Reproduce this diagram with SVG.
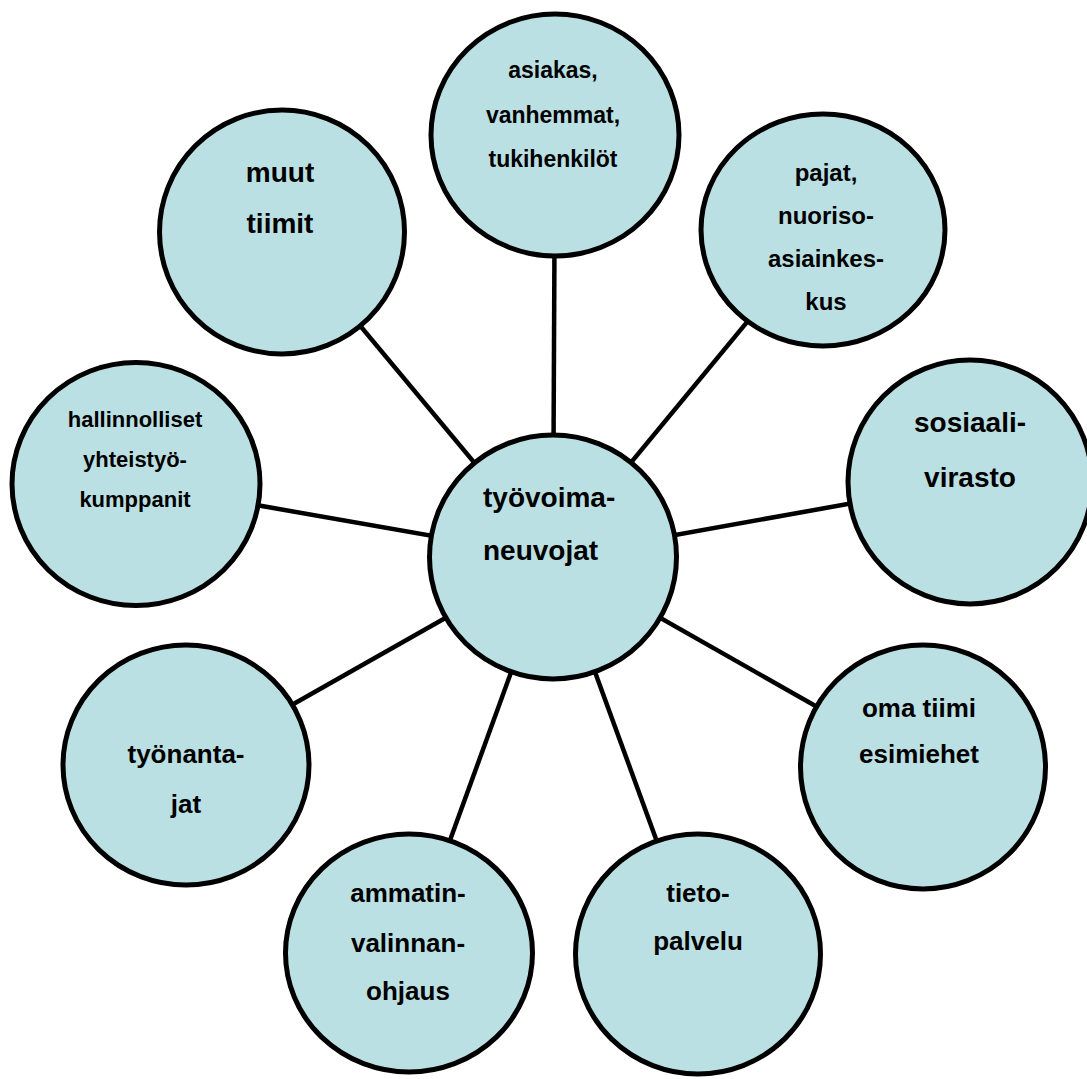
<svg xmlns="http://www.w3.org/2000/svg" width="1087" height="1079" viewBox="0 0 1087 1079">
  <style>
    .node { fill: #bbe0e3; stroke: #000; stroke-width: 5; }
    .link { stroke: #000; stroke-width: 4.5; fill: none; }
    text { font-family: "Liberation Sans", Arial, sans-serif; font-weight: bold; fill: #000; text-anchor: middle; }
  </style>
  <rect width="1087" height="1079" fill="#fff"/>

  <!-- spokes from the hub to every outer node -->
  <g id="connectors">
    <line class="link" x1="553" y1="557" x2="555" y2="135"/>
    <line class="link" x1="553" y1="557" x2="823" y2="230"/>
    <line class="link" x1="553" y1="557" x2="970" y2="482"/>
    <line class="link" x1="553" y1="557" x2="923" y2="767"/>
    <line class="link" x1="553" y1="557" x2="698" y2="954"/>
    <line class="link" x1="553" y1="557" x2="409" y2="953"/>
    <line class="link" x1="553" y1="557" x2="186" y2="765"/>
    <line class="link" x1="553" y1="557" x2="136" y2="484"/>
    <line class="link" x1="553" y1="557" x2="282" y2="232"/>
  </g>

  <g id="node-asiakas">
    <ellipse class="node" cx="555" cy="135" rx="124" ry="121"/>
    <text font-size="23"><tspan x="553" y="78">asiakas,</tspan><tspan x="553" y="123">vanhemmat,</tspan><tspan x="553" y="167">tukihenkilöt</tspan></text>
  </g>

  <g id="node-pajat">
    <ellipse class="node" cx="823" cy="230" rx="122" ry="116"/>
    <text font-size="24"><tspan x="826" y="181">pajat,</tspan><tspan x="826" y="224">nuoriso-</tspan><tspan x="826" y="267">asiainkes-</tspan><tspan x="826" y="310">kus</tspan></text>
  </g>

  <g id="node-sosiaalivirasto">
    <ellipse class="node" cx="970" cy="482" rx="122" ry="122"/>
    <text font-size="28"><tspan x="970" y="432">sosiaali-</tspan><tspan x="970" y="487">virasto</tspan></text>
  </g>

  <g id="node-oma-tiimi">
    <ellipse class="node" cx="923" cy="767" rx="122.5" ry="122"/>
    <text font-size="26"><tspan x="919" y="717">oma tiimi</tspan><tspan x="919" y="763">esimiehet</tspan></text>
  </g>

  <g id="node-tietopalvelu">
    <ellipse class="node" cx="698" cy="954" rx="122.5" ry="120"/>
    <text font-size="26"><tspan x="698" y="902">tieto-</tspan><tspan x="698" y="950">palvelu</tspan></text>
  </g>

  <g id="node-ammatinvalinnanohjaus">
    <ellipse class="node" cx="409" cy="953" rx="123.5" ry="119"/>
    <text font-size="26"><tspan x="408" y="902">ammatin-</tspan><tspan x="408" y="952">valinnan-</tspan><tspan x="408" y="1000">ohjaus</tspan></text>
  </g>

  <g id="node-tyonantajat">
    <ellipse class="node" cx="186" cy="765" rx="123" ry="120"/>
    <text font-size="26"><tspan x="186" y="763">työnanta-</tspan><tspan x="186" y="813">jat</tspan></text>
  </g>

  <g id="node-hallinnolliset">
    <ellipse class="node" cx="136" cy="484" rx="124" ry="121.5"/>
    <text font-size="22"><tspan x="135" y="427">hallinnolliset</tspan><tspan x="135" y="467">yhteistyö-</tspan><tspan x="135" y="507">kumppanit</tspan></text>
  </g>

  <g id="node-muut-tiimit">
    <ellipse class="node" cx="282" cy="232" rx="122.5" ry="122"/>
    <text font-size="28"><tspan x="280" y="182">muut</tspan><tspan x="280" y="233">tiimit</tspan></text>
  </g>

  <g id="node-tyovoimaneuvojat">
    <ellipse class="node" cx="553" cy="557" rx="123.5" ry="122"/>
    <text font-size="28" style="text-anchor:start"><tspan x="483" y="507">työvoima-</tspan><tspan x="483" y="560">neuvojat</tspan></text>
  </g>
</svg>
